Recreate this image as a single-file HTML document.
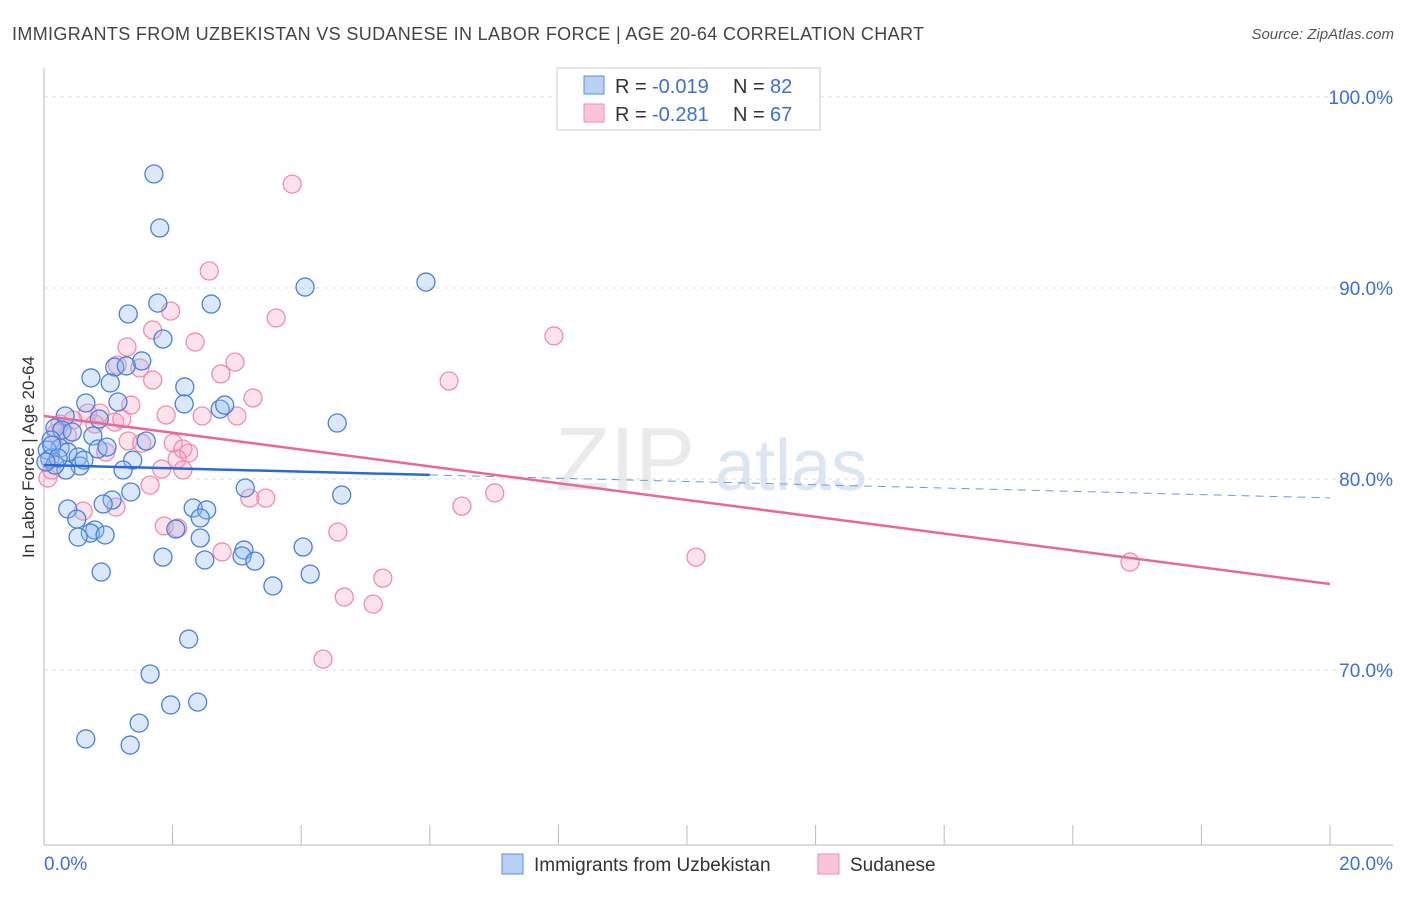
<!DOCTYPE html>
<html><head><meta charset="utf-8"><style>
body{margin:0;background:#fff;font-family:"Liberation Sans",sans-serif;}
svg text{font-family:"Liberation Sans",sans-serif;}
</style></head><body>
<svg id="chart" width="1406" height="892" xmlns="http://www.w3.org/2000/svg">
<text x="12" y="40" font-size="18" fill="#444" textLength="912" lengthAdjust="spacing">IMMIGRANTS FROM UZBEKISTAN VS SUDANESE IN LABOR FORCE | AGE 20-64 CORRELATION CHART</text>
<text x="1394" y="39" font-size="15" fill="#555" font-style="italic" text-anchor="end">Source: ZipAtlas.com</text>
<text transform="translate(34,457) rotate(-90)" font-size="17" fill="#333" text-anchor="middle">In Labor Force | Age 20-64</text>
<text x="555" y="490" font-size="90" fill="#ddd" font-family="Liberation Serif" opacity="0.6">ZIP</text>
<text x="715" y="490" font-size="72" fill="#c5d5ee" opacity="0.6">atlas</text>
<g id="grid"></g><g id="marks"></g>
<g>
<rect x="557" y="68" width="263" height="62" fill="#fff" stroke="#ccc"/>
<rect x="584" y="76" width="20" height="18" fill="#b8d0f4" stroke="#5a8fdc"/>
<rect x="584" y="104" width="20" height="18" fill="#f8c4d6" stroke="#f08cb0"/>
<text x="615" y="93" font-size="20" fill="#333">R =</text>
<text x="652" y="93" font-size="20" fill="#3d6fd0">-0.019</text>
<text x="733" y="93" font-size="20" fill="#333">N =</text>
<text x="770" y="93" font-size="20" fill="#3d6fd0">82</text>
<text x="615" y="121" font-size="20" fill="#333">R =</text>
<text x="652" y="121" font-size="20" fill="#3d6fd0">-0.281</text>
<text x="733" y="121" font-size="20" fill="#333">N =</text>
<text x="770" y="121" font-size="20" fill="#3d6fd0">67</text>
</g>
<g>
<rect x="502" y="854" width="21" height="20" fill="#b8d0f4" stroke="#5a8fdc"/>
<text x="534" y="871" font-size="19" fill="#333">Immigrants from Uzbekistan</text>
<rect x="818" y="854" width="21" height="20" fill="#f8c4d6" stroke="#f08cb0"/>
<text x="850" y="871" font-size="19" fill="#333">Sudanese</text>
</g>
</svg>
<script>
const yTicks=[100,90,80,70];
const xTickLabels=["0.0%","20.0%"];
const blueX=[1.71,1.80,5.94,4.06,1.77,2.60,1.31,1.85,1.52,1.10,1.28,0.73,1.03,2.19,0.65,1.15,2.18,2.74,2.81,0.33,0.86,4.56,0.17,0.28,0.44,0.76,1.59,0.11,0.25,0.05,0.37,0.53,0.84,0.98,1.38,0.56,1.23,0.34,0.09,0.17,3.13,1.35,4.63,1.06,0.92,0.37,2.32,2.53,2.43,0.51,0.79,0.72,0.95,0.53,2.05,2.43,4.03,3.11,3.08,1.85,2.50,3.28,0.89,4.14,3.56,2.25,1.65,1.97,2.39,1.48,0.65,1.34,0.12,0.22,0.03,0.62];
const blueY=[95.97,93.14,90.31,90.05,89.21,89.16,88.64,87.33,86.18,85.86,85.92,85.29,85.03,84.82,83.98,84.03,83.93,83.66,83.87,83.30,83.14,82.93,82.67,82.56,82.46,82.25,81.99,82.04,81.62,81.52,81.41,81.15,81.57,81.67,80.99,80.68,80.47,80.47,81.05,80.73,79.53,79.32,79.16,78.90,78.69,78.43,78.48,78.38,77.96,77.90,77.33,77.17,77.07,76.96,77.38,76.91,76.44,76.28,75.97,75.91,75.76,75.70,75.13,75.02,74.40,71.62,69.79,68.17,68.32,67.22,66.39,66.07,81.78,81.10,80.89,80.99];
const pinkX=[3.86,2.57,1.97,3.61,7.93,2.35,1.69,1.29,2.97,1.14,1.49,2.75,6.30,1.69,3.25,1.35,1.90,2.46,3.00,0.68,0.87,0.45,0.25,0.79,1.10,1.21,0.19,0.36,1.31,1.52,2.01,2.16,2.25,0.96,2.07,1.83,2.16,1.65,7.01,3.20,3.45,1.12,0.61,6.50,1.87,2.08,4.57,2.77,10.14,16.89,5.27,4.67,5.12,4.34,0.06,0.12];
const pinkY=[95.44,90.89,88.79,88.43,87.49,87.17,87.80,86.91,86.12,85.97,85.81,85.50,85.13,85.18,84.24,83.87,83.35,83.30,83.30,83.45,83.45,83.09,82.88,82.88,82.98,83.14,82.41,82.30,81.99,81.88,81.88,81.57,81.36,81.41,81.05,80.52,80.47,79.68,79.27,79.00,79.00,78.53,78.32,78.58,77.54,77.43,77.22,76.18,75.91,75.65,74.81,73.82,73.45,70.57,80.05,80.47];
const blueTrend=[80.73,79.01];
const pinkTrend=[83.30,74.50];
const blueSolidEnd=6.0;
const sx=v=>44+v/20*1286;
const sy=v=>97+(100-v)*19.1;
const NS="http://www.w3.org/2000/svg";
const grid=document.getElementById('grid'),marks=document.getElementById('marks');
function mk(tag,attrs,parent){const e=document.createElementNS(NS,tag);for(const k in attrs)e.setAttribute(k,attrs[k]);parent.appendChild(e);return e;}
yTicks.forEach(t=>{
 const l=mk('line',{x1:44,x2:1393,y1:sy(t),y2:sy(t),stroke:'#ddd','stroke-dasharray':'4,4'},grid);
 
 
 const tx=mk('text',{x:1393,y:sy(t)+7,'font-size':19,fill:'#3d6fd0','text-anchor':'end'},grid);
 tx.textContent=t.toFixed(1)+'%';
 
 
});
const ax=mk('line',{x1:44,x2:1393,y1:845,y2:845,stroke:'#bbb'},grid);


const ay=mk('line',{x1:44,x2:44,y1:68,y2:845,stroke:'#bbb'},grid);


for(let i=0;i<=10;i++){const t=mk('line',{x1:sx(i*2),x2:sx(i*2),y1:825,y2:845,stroke:'#bbb'},grid);
 
 }
xTickLabels.forEach((s,i)=>{const t=mk('text',{x:i?1393:44,y:870,'font-size':19,fill:'#3d6fd0','text-anchor':i?'end':'start'},grid);t.textContent=s;
 
 });
function pts(X,Y,fill,stroke,name){X.forEach((x,i)=>{const c=mk('circle',{cx:sx(x),cy:sy(Y[i]),r:9,fill:fill,stroke:stroke,'stroke-width':1.3},marks);
 
 });}
pts(pinkX,pinkY,'rgba(244,160,190,0.3)','#f08cb0','sudanese-point');
pts(blueX,blueY,'rgba(150,190,240,0.35)','#4a80d8','uzbekistan-point');
const bAt=x=>blueTrend[0]+(blueTrend[1]-blueTrend[0])*x/20;
const b1=mk('line',{x1:sx(0),y1:sy(bAt(0)),x2:sx(blueSolidEnd),y2:sy(bAt(blueSolidEnd)),stroke:'#2a6ad8','stroke-width':2.5},marks);


const b2=mk('line',{x1:sx(blueSolidEnd),y1:sy(bAt(blueSolidEnd)),x2:sx(20),y2:sy(bAt(20)),stroke:'#6a9ae0','stroke-width':1,'stroke-dasharray':'8,6'},marks);


const p1=mk('line',{x1:sx(0),y1:sy(pinkTrend[0]),x2:sx(20),y2:sy(pinkTrend[1]),stroke:'#e8689a','stroke-width':2.5},marks);


</script>
</body></html>
